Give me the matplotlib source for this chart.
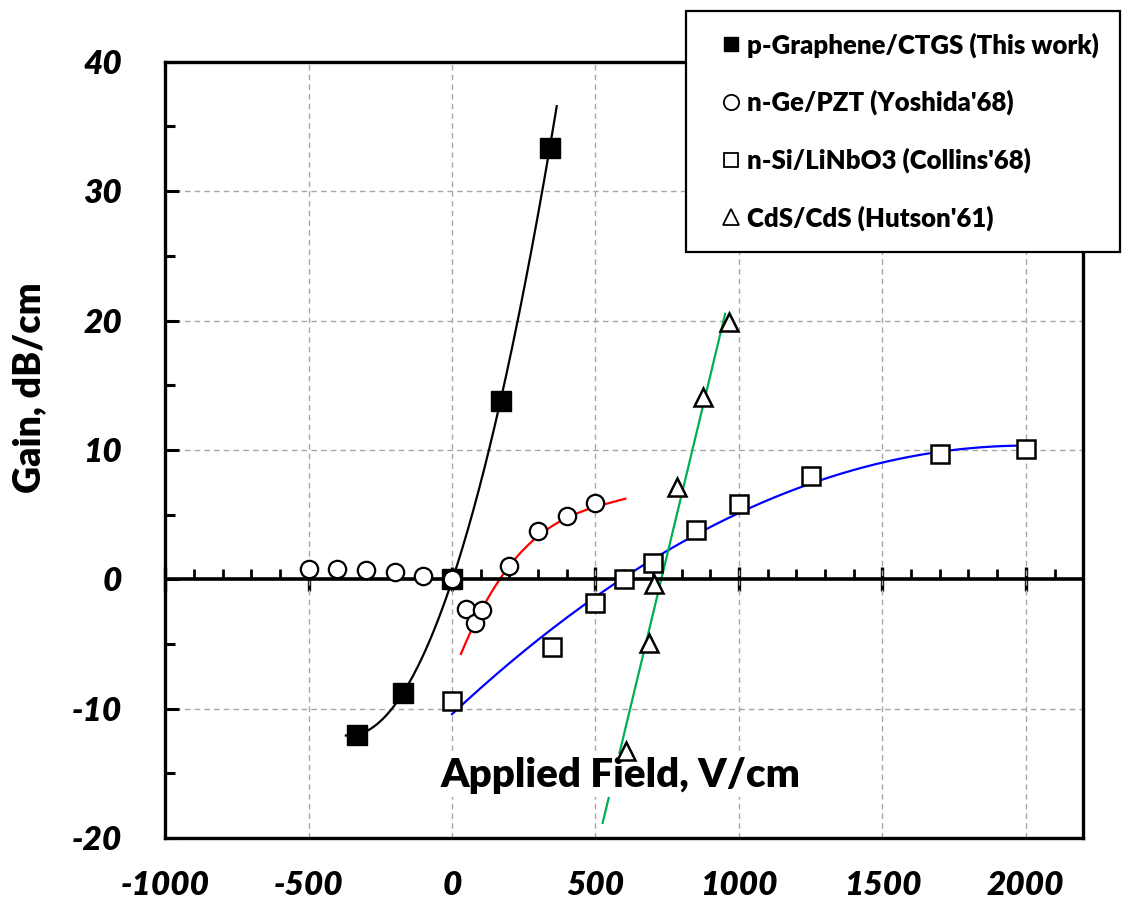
import numpy as np
import matplotlib.pyplot as plt
from matplotlib.ticker import MultipleLocator
from matplotlib.lines import Line2D

plt.rcParams['font.family'] = ['Lato', 'DejaVu Sans']
plt.rcParams['axes.unicode_minus'] = False

# p-Graphene/CTGS (This work)
gr_x = [-330, -170, 0, 170, 340]
gr_y = [-12.0, -8.8, 0.0, 13.8, 33.3]
# n-Ge/PZT (Yoshida'68)
ge_x = [-500, -400, -300, -200, -100, 0, 48, 80, 104, 200, 300, 400, 500]
ge_y = [0.8, 0.8, 0.7, 0.6, 0.25, 0.0, -2.3, -3.4, -2.4, 1.0, 3.7, 4.9, 5.9]
# red trend curve
ge_tr_x = [31, 98, 167, 237, 307, 400, 500, 604]
ge_tr_y = [-5.7, -2.8, 0.25, 2.1, 3.3, 4.7, 5.7, 6.2]
# n-Si/LiNbO3 (Collins'68)
si_x = [0, 350, 500, 600, 700, 850, 1000, 1250, 1700, 2000]
si_y = [-9.4, -5.2, -1.8, 0.0, 1.3, 3.8, 5.8, 8.0, 9.7, 10.1]
# CdS/CdS (Hutson'61)
cd_x = [605, 685, 705, 785, 875, 965]
cd_y = [-13.3, -4.9, -0.4, 7.1, 14.1, 19.9]

# trendline extents (x range of each fitted curve)
gr_rng = (-370, 365)
ge_rng = (31, 604)
si_rng = (0, 2000)
cd_rng = (525, 952)

labels = ["p-Graphene/CTGS (This work)", "n-Ge/PZT (Yoshida'68)",
          "n-Si/LiNbO3 (Collins'68)", "CdS/CdS (Hutson'61)"]

fig = plt.figure(figsize=(11.39, 9.22), dpi=100)
ax = fig.add_axes([0.145, 0.091, 0.806, 0.842])

ax.set_xlim(-1000, 2200)
ax.set_ylim(-20, 40)

def trend(xs, ys, deg, rng, color):
    c = np.polyfit(xs, ys, deg)
    xx = np.linspace(rng[0], rng[1], 200)
    ax.plot(xx, np.polyval(c, xx), color=color, lw=1.6, zorder=2)

trend(gr_x, gr_y, 2, gr_rng, 'black')
trend(ge_tr_x, ge_tr_y, 3, ge_rng, '#ff0000')
trend(si_x, si_y, 2, si_rng, '#0000ff')
trend(cd_x, cd_y, 1, cd_rng, '#00b050')

ax.plot(gr_x, gr_y, 's', color='black', ms=14, zorder=4)
ax.plot(si_x, si_y, 's', mfc='white', mec='black', mew=1.8, ms=13, zorder=4)
ax.plot(cd_x, cd_y, '^', mfc='white', mec='black', mew=1.8, ms=13.5, zorder=4)
ax.plot(ge_x, ge_y, 'o', mfc='white', mec='black', mew=1.6, ms=12.5, zorder=5)

# grid
ax.xaxis.set_major_locator(MultipleLocator(500))
ax.yaxis.set_major_locator(MultipleLocator(10))
ax.yaxis.set_minor_locator(MultipleLocator(5))
ax.grid(True, which='major', color='#a6a6a6', ls=(0, (4, 3)), lw=1.0, zorder=0)
ax.set_axisbelow(True)

for s in ax.spines.values():
    s.set_linewidth(2.4)

ax.tick_params(axis='x', which='both', length=0, pad=24)
ax.tick_params(axis='y', which='major', direction='in', length=10, width=2.2, pad=31)
ax.tick_params(axis='y', which='minor', direction='in', length=7, width=2.2)
for lab in ax.get_xticklabels() + ax.get_yticklabels():
    lab.set_fontsize(24)
    lab.set_fontweight('heavy')
    lab.set_fontstyle('italic')

# axis line through y = 0 with its ticks
ax.axhline(0, color='black', lw=2.6, zorder=3)
sec = ax.secondary_xaxis(1/3)
for s in sec.spines.values():
    s.set_visible(False)
sec.xaxis.set_major_locator(MultipleLocator(500))
sec.xaxis.set_minor_locator(MultipleLocator(100))
sec.tick_params(which='major', direction='inout', length=17, width=2.4, labelbottom=False)
sec.tick_params(which='minor', direction='in', length=7, width=2.0)
sec.set_xticklabels([])

fig.text(0.0255, 0.579, "Gain, dB/cm", rotation=90, ha='center', va='center',
         fontsize=27, fontweight='heavy')
ax.text(0.496, 0.081, "Applied Field, V/cm", transform=ax.transAxes, ha='center', va='center',
        fontsize=29, fontweight='heavy', zorder=3,
        bbox=dict(facecolor='white', edgecolor='none', pad=2))

handles = [
    Line2D([], [], ls='none', marker='s', color='black', ms=10.5),
    Line2D([], [], ls='none', marker='o', mfc='white', mec='black', mew=1.3, ms=11),
    Line2D([], [], ls='none', marker='s', mfc='white', mec='black', mew=1.3, ms=10.5),
    Line2D([], [], ls='none', marker='^', mfc='white', mec='black', mew=1.3, ms=11),
]
leg = fig.legend(handles, labels, loc='upper left', bbox_to_anchor=(0.602, 0.988),
                 frameon=True, fancybox=False, edgecolor='black', framealpha=1,
                 prop={'weight': 'heavy', 'size': 18.5}, handlelength=1.9, handletextpad=-0.35,
                 labelspacing=1.25, borderpad=0.82, borderaxespad=0)
leg.get_frame().set_linewidth(1.6)

fig.savefig('out.png', dpi=100)
